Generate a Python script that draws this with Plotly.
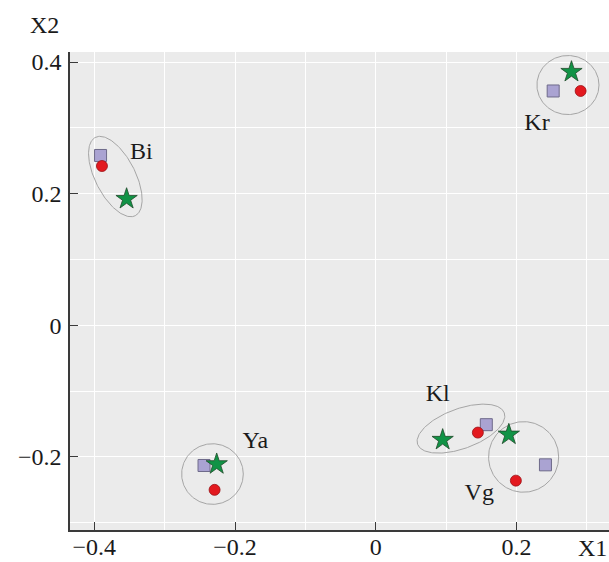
import numpy as np
import plotly.graph_objects as go

groups = ["Bi", "Kr", "Kl", "Vg", "Ya"]
square_x = [-0.391, 0.252, 0.157, 0.241, -0.244]
square_y = [0.258, 0.356, -0.151, -0.212, -0.213]
circle_x = [-0.389, 0.291, 0.145, 0.199, -0.229]
circle_y = [0.242, 0.356, -0.163, -0.236, -0.250]
star_x = [-0.354, 0.278, 0.095, 0.189, -0.226]
star_y = [0.192, 0.385, -0.174, -0.166, -0.211]
label_x = [-0.333, 0.229, 0.088, 0.147, -0.171]
label_y = [0.262, 0.306, -0.106, -0.256, -0.177]
# ellipse parameters: centre, semi-axes (x-units), rotation (deg, data orientation)
ell_cx = [-0.370, 0.273, 0.121, 0.210, -0.232]
ell_cy = [0.226, 0.365, -0.157, -0.200, -0.226]
ell_a = [0.0625, 0.0441, 0.0655, 0.0498, 0.0438]
ell_b = [0.0285, 0.0420, 0.0284, 0.0502, 0.0431]
ell_ang = [-63, 0, 20, 0, 0]

YX_RATIO = 703.3 / 658.3  # pixel scale ratio of x to y
FONT = "Liberation Serif"

fig = go.Figure()
t = np.linspace(0, 2 * np.pi, 200)
for cx, cy, a, b, ang in zip(ell_cx, ell_cy, ell_a, ell_b, ell_ang):
    th = np.deg2rad(ang)
    dx = a * np.cos(t) * np.cos(th) - b * np.sin(t) * np.sin(th)
    dy = a * np.cos(t) * np.sin(th) + b * np.sin(t) * np.cos(th)
    fig.add_trace(go.Scatter(x=cx + dx, y=cy + dy * YX_RATIO, mode="lines",
                             line=dict(color="#a5a5a5", width=1), hoverinfo="skip",
                             showlegend=False))

fig.add_trace(go.Scatter(x=square_x, y=square_y, mode="markers",
                         marker=dict(symbol="square", size=12, color="#aaa3d2",
                                     line=dict(color="#6e6a8a", width=1)), showlegend=False))
fig.add_trace(go.Scatter(x=circle_x, y=circle_y, mode="markers",
                         marker=dict(symbol="circle", size=11, color="#e3191f",
                                     line=dict(color="#9a1015", width=0.8)), showlegend=False))
fig.add_trace(go.Scatter(x=star_x, y=star_y, mode="markers",
                         marker=dict(symbol="star", size=16, color="#119346",
                                     line=dict(color="#1f4a2a", width=0.8)), showlegend=False))
fig.add_trace(go.Scatter(x=label_x, y=label_y, mode="text", text=groups,
                         textfont=dict(family=FONT, size=24, color="#1a1a1a"),
                         showlegend=False, hoverinfo="skip"))

axis_common = dict(showgrid=True, gridcolor="white", gridwidth=1, zeroline=False,
                   showline=True, linecolor="#3a3a3a", linewidth=1.5, automargin=False,
                   ticks="inside", ticklen=8, tickcolor="#3a3a3a", tickwidth=1,
                   tickfont=dict(family=FONT, size=24, color="#1a1a1a"),
                   minor=dict(dtick=0.1, showgrid=True, gridcolor="white", gridwidth=1, ticks=""))

fig.update_xaxes(range=[-0.4344, 0.3313], tickvals=[-0.4, -0.2, 0, 0.2],
                 ticktext=["\u22120.4", "\u22120.2", "0", "0.2"], ticklabelstandoff=-6,
                 **axis_common)
fig.update_yaxes(range=[-0.311, 0.4152], tickvals=[-0.2, 0, 0.2, 0.4],
                 ticktext=["\u22120.2", "0", "0.2", "0.4"], ticklabelstandoff=2,
                 **axis_common)

fig.add_annotation(text="X2", xref="paper", yref="paper", x=-0.078, y=1.056,
                   xanchor="left", yanchor="middle", showarrow=False,
                   font=dict(family=FONT, size=24, color="#1a1a1a"))
fig.add_annotation(text="X1", xref="paper", yref="paper", x=1.0, y=-0.038,
                   xanchor="right", yanchor="middle", showarrow=False,
                   font=dict(family=FONT, size=24, color="#1a1a1a"))

fig.update_layout(width=609, height=562, margin=dict(l=70, r=0, t=52, b=32),
                  plot_bgcolor="#ebebeb", paper_bgcolor="white")

fig.write_html("out.html")
